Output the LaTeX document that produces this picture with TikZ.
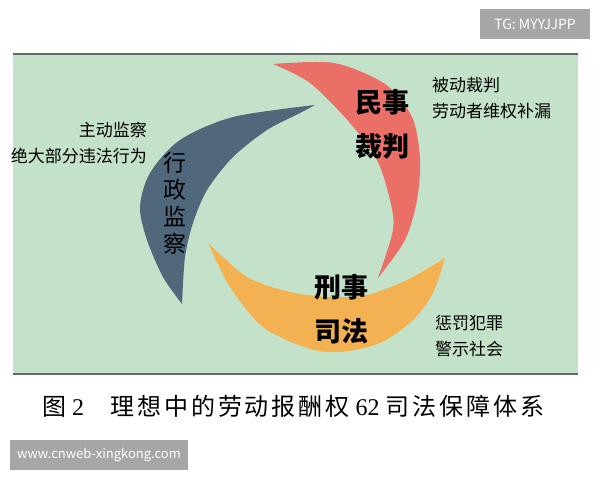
\documentclass[tikz,border=0pt]{standalone}
\usepackage{fontspec}
\setmainfont{Liberation Serif}
\newfontfamily\cjk{Noto Sans CJK SC}
\newfontfamily\cjkcap[LetterSpace=12]{Noto Sans CJK SC}
\definecolor{panelgreen}{HTML}{C4E2C9}
\definecolor{edgegreen}{HTML}{5E6E60}
\definecolor{civilred}{HTML}{EA6F66}
\definecolor{crimeorange}{HTML}{F4B152}
\definecolor{adminblue}{HTML}{4F687C}
\definecolor{markgray}{HTML}{A6A6A6}

\begin{document}
\begin{tikzpicture}[x=1pt,y=-1pt,
  side/.style={font=\cjk\fontsize{17}{26}\selectfont, inner sep=0pt},
  big/.style={font=\cjk\bfseries\fontsize{27}{44}\selectfont, align=center, inner sep=0pt},
  tagbox/.style={fill=markgray, text=white, inner sep=0pt}]

  \useasboundingbox (0,0) rectangle (600,480);
  \fill[white] (0,0) rectangle (600,480);

  % panel
  \fill[panelgreen] (13,54) rectangle (578,374);
  \draw[edgegreen, line width=1.5pt] (13,54) -- (578,54);
  \draw[edgegreen, line width=1.5pt] (13,374) -- (578,374);

  % three arcs
  \fill[civilred] plot[smooth] coordinates {(273,64) (334,63) (385,84) (412,117) (420,158) (417,200) (405,240) (378,278)}
    -- plot[smooth] coordinates {(378,278) (393,230) (390,200) (377,160) (350,123) (310,83) (273,64)} -- cycle;
  \fill[adminblue] plot[smooth] coordinates {(315,105) (233,117) (180,140) (150,173) (140,207) (147,240) (163,277) (182,304)}
    -- plot[smooth] coordinates {(182,304) (185,257) (193,223) (207,190) (233,157) (267,130) (300,113) (315,105)} -- cycle;
  \fill[crimeorange] plot[smooth] coordinates {(208,243) (230,287) (263,327) (307,348) (340,352) (380,343) (413,320) (433,293) (445,258)}
    -- plot[smooth] coordinates {(445,258) (407,280) (367,295) (330,297) (290,292) (247,277) (208,243)} -- cycle;

  % labels
  \node[big] (civil) at (382,124) {民事\\裁判};
  \node[big] (crime) at (341,309) {刑事\\司法};
  \node[font=\cjk\fontsize{23}{27}\selectfont, align=center, inner sep=0pt] (admin) at (175,203) {行\\政\\监\\察};

  \node[side, anchor=west, align=left] (civilnote) at (432,98) {被动裁判\\劳动者维权补漏};
  \node[side, anchor=east, align=right] (adminnote) at (147,143) {主动监察\\绝大部分违法行为};
  \node[side, anchor=west, align=left] (crimenote) at (435,336) {惩罚犯罪\\警示社会};

  % caption
  \node[font=\fontsize{24}{26}\selectfont, anchor=west, inner sep=0pt] (caption) at (42,406)
    {{\cjk 图} 2\hspace{1.1em}{\cjkcap 理想中的劳动报酬权} 62 {\cjkcap 司法保障体系}};

  % watermarks
  \node[tagbox, minimum width=110pt, minimum height=30pt, font=\cjk\fontsize{14}{16}\selectfont] (tg) at (535,24) {TG: MYYJJPP};
  \node[tagbox, minimum width=178pt, minimum height=30pt, font=\cjk\fontsize{13}{15}\selectfont] (site) at (99,455) {www.cnweb-xingkong.com};

\end{tikzpicture}
\end{document}
